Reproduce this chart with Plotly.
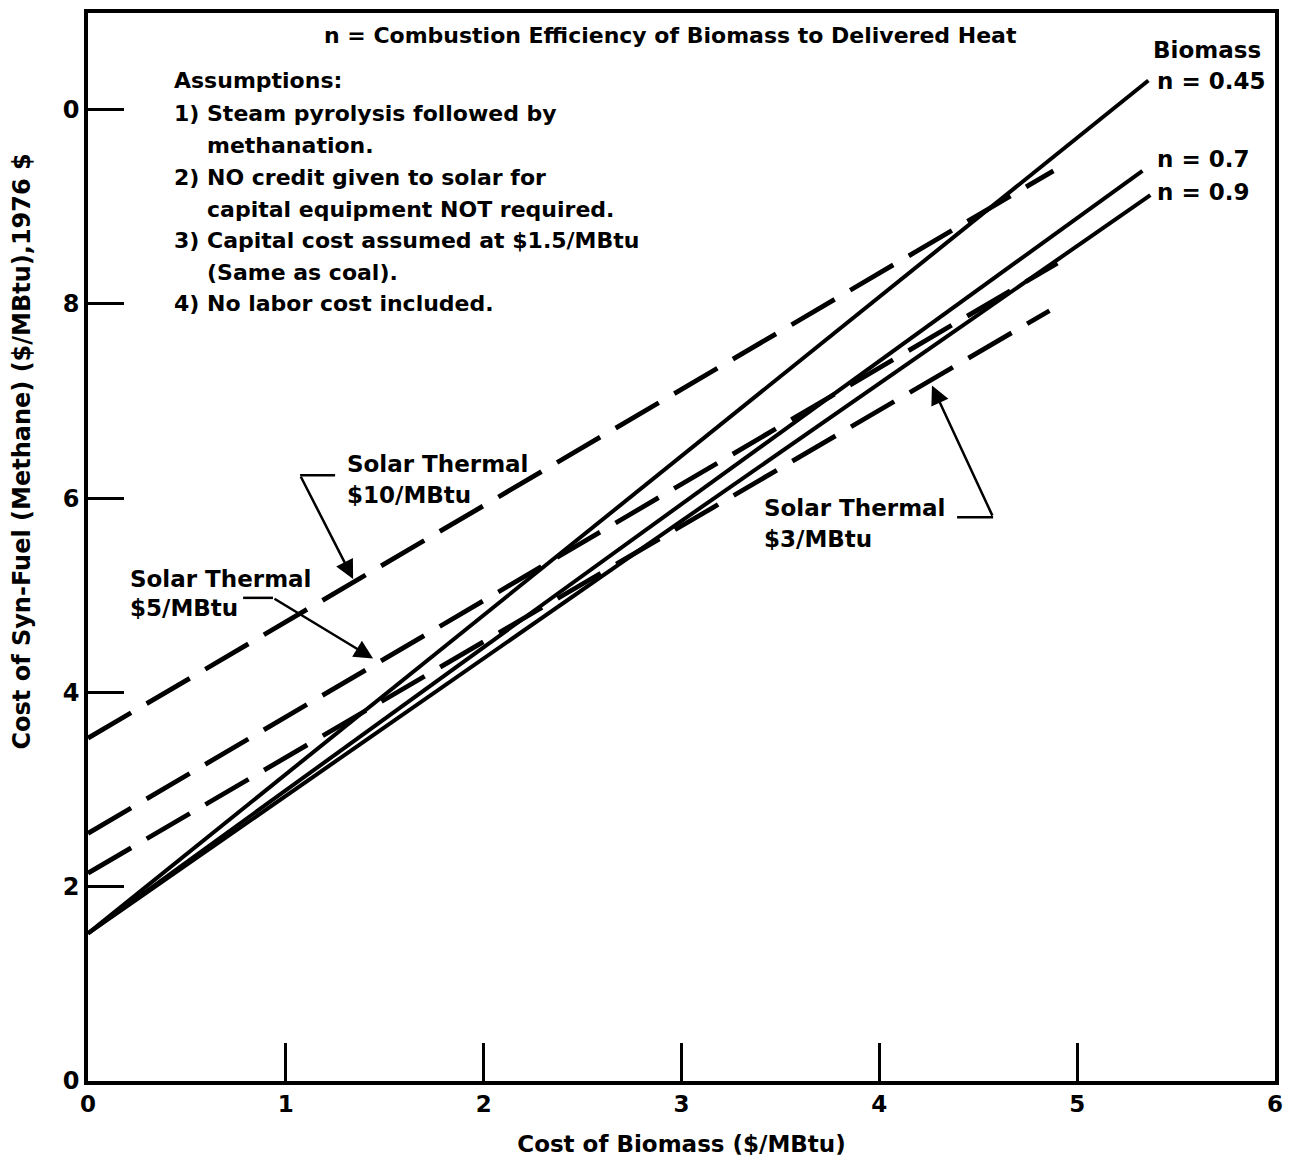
import plotly.graph_objects as go

# ---- data ----
biomass_labels = ["n = 0.45", "n = 0.7", "n = 0.9"]
biomass_x = [[0, 5.36], [0, 5.33], [0, 5.37]]
biomass_y = [[1.52, 10.30], [1.52, 9.37], [1.52, 9.12]]

solar_labels = ["$10/MBtu", "$5/MBtu", "$3/MBtu"]
solar_x = [[0, 4.88], [0, 4.90], [0, 4.86]]
solar_y = [[3.53, 9.37], [2.55, 8.42], [2.14, 7.93]]

x_ticks = [0, 1, 2, 3, 4, 5, 6]
x_ticktext = ["0", "1", "2", "3", "4", "5", "6"]
y_ticks = [0, 2, 4, 6, 8, 10]
y_ticktext = ["0", "2", "4", "6", "8", "0"]

assumptions = [
    ("Assumptions:", 0),
    ("1) Steam pyrolysis followed by", 0),
    ("methanation.", 1),
    ("2) NO credit given to solar for", 0),
    ("capital equipment NOT required.", 1),
    ("3) Capital cost assumed at $1.5/MBtu", 0),
    ("(Same as coal).", 1),
    ("4) No labor cost included.", 0),
]

FONT = "DejaVu Sans"
fig = go.Figure()

for xs, ys, name in zip(biomass_x, biomass_y, biomass_labels):
    fig.add_trace(go.Scatter(x=xs, y=ys, mode="lines", name=name,
                             line=dict(color="black", width=4), showlegend=False))
for xs, ys, name in zip(solar_x, solar_y, solar_labels):
    fig.add_trace(go.Scatter(x=xs, y=ys, mode="lines", name=name,
                             line=dict(color="black", width=4.8, dash="50px,18px"),
                             showlegend=False))

def txt(x, y, s, anchor="left", size=23):
    fig.add_annotation(x=x, y=y, xref="x", yref="y", text=s, showarrow=False,
                       xanchor=anchor, yanchor="middle",
                       font=dict(family=FONT, size=size, color="black", weight="bold"))

txt(2.942, 10.76, "n = Combustion Efficiency of Biomass to Delivered Heat", anchor="center", size=22)

ys_ass = [10.30, 9.96, 9.63, 9.30, 8.97, 8.65, 8.32, 8.00]
for (s, ind), yv in zip(assumptions, ys_ass):
    txt(0.425 if ind == 0 else 0.591, yv, s, size=22)

txt(5.94, 10.61, "Biomass", anchor="right")
txt(5.394, 10.29, "n = 0.45")
txt(5.394, 9.49, "n = 0.7")
txt(5.394, 9.15, "n = 0.9")

txt(1.299, 6.35, "Solar Thermal")
txt(1.299, 6.03, "$10/MBtu")
txt(0.202, 5.169, "Solar Thermal")
txt(0.202, 4.872, "$5/MBtu")
txt(3.407, 5.897, "Solar Thermal")
txt(3.407, 5.579, "$3/MBtu")

# leader lines
def seg(x0, y0, x1, y1):
    fig.add_shape(type="line", x0=x0, y0=y0, x1=x1, y1=y1, xref="x", yref="y",
                  line=dict(color="black", width=2.5))

def arrow(tx, ty, fx, fy):
    fig.add_annotation(x=tx, y=ty, ax=fx, ay=fy, xref="x", yref="y", axref="x", ayref="y",
                       text="", showarrow=True, arrowhead=2, arrowsize=1.5,
                       arrowwidth=2.5, arrowcolor="black", standoff=0, startstandoff=0)

seg(1.072, 6.236, 1.249, 6.236)
arrow(1.340, 5.169, 1.072, 6.236)
seg(0.784, 4.974, 0.935, 4.974)
arrow(1.441, 4.349, 0.935, 4.974)
seg(4.393, 5.805, 4.575, 5.805)
arrow(4.266, 7.159, 4.575, 5.805)

# y-axis title as rotated annotation
fig.add_annotation(x=-0.0556, y=6.48, xref="paper", yref="y", textangle=-90,
                   xanchor="center", yanchor="middle",
                   text="Cost of Syn-Fuel (Methane) ($/MBtu),1976 $", showarrow=False,
                   font=dict(family=FONT, size=24, color="black", weight="bold"))

fig.update_layout(
    width=1286, height=1153,
    margin=dict(l=80, r=19, t=1, b=80),
    plot_bgcolor="white", paper_bgcolor="white",
    font=dict(family=FONT, color="black"),
    xaxis=dict(range=[0, 6], tickvals=x_ticks, ticktext=x_ticktext,
               ticks="inside", ticklen=38, tickwidth=2.5, tickcolor="black",
               showline=True, linecolor="black", linewidth=3.5, mirror=True,
               showgrid=False, zeroline=False,
               tickfont=dict(family=FONT, size=23, color="black", weight="bold"),
               title=dict(text="Cost of Biomass ($/MBtu)", standoff=21,
                          font=dict(family=FONT, size=23, color="black", weight="bold"))),
    yaxis=dict(range=[0, 10.995], tickvals=y_ticks, ticktext=y_ticktext,
               ticks="inside", ticklen=36, tickwidth=3, tickcolor="black",
               showline=True, linecolor="black", linewidth=3.5, mirror=True,
               showgrid=False, zeroline=False,
               tickfont=dict(family=FONT, size=24, color="black", weight="bold")),
)

fig.write_html("out.html")
